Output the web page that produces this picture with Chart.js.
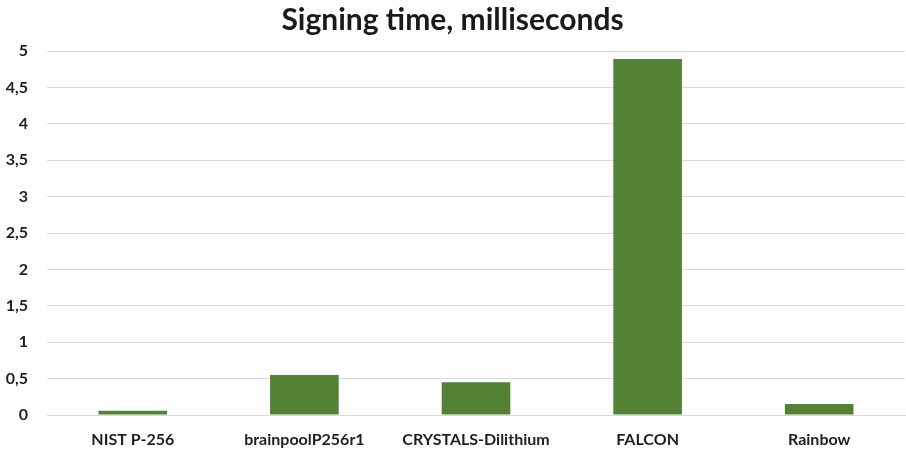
<!DOCTYPE html>
<html>
<head>
<meta charset="utf-8">
<script src="https://cdn.jsdelivr.net/npm/chart.js@4/dist/chart.umd.min.js"></script>
<style>
  html, body { margin: 0; padding: 0; background: #ffffff; }
  #wrap { width: 906px; height: 452px; }
</style>
</head>
<body>
<div id="wrap"><canvas id="c" width="906" height="452"></canvas></div>
<script>
// Signing time per algorithm, in milliseconds
const categories = ["NIST P-256", "brainpoolP256r1", "CRYSTALS-Dilithium", "FALCON", "Rainbow"];
const signingTimeMs = [0.06, 0.55, 0.45, 4.89, 0.15];
const yTicks = [0, 0.5, 1, 1.5, 2, 2.5, 3, 3.5, 4, 4.5, 5];

const fontFamily = "Lato, 'Open Sans', 'DejaVu Sans', sans-serif";

new Chart(document.getElementById("c"), {
  type: "bar",
  data: {
    labels: categories,
    datasets: [{
      label: "Signing time, milliseconds",
      data: signingTimeMs,
      backgroundColor: "#548235",
      borderWidth: 0,
      categoryPercentage: 0.8,
      barPercentage: 0.5
    }]
  },
  options: {
    responsive: false,
    animation: false,
    layout: { padding: { left: 0, right: 1, top: 0, bottom: 3 } },
    plugins: {
      legend: { display: false },
      tooltip: { enabled: false },
      title: {
        display: true,
        text: "Signing time, milliseconds",
        color: "#1a1a1a",
        font: { family: fontFamily, size: 30, weight: "bold" },
        padding: { top: 2, bottom: 13 }
      }
    },
    scales: {
      x: {
        afterFit: (axis) => { axis.height = 34; },
        grid: { display: false, drawTicks: false },
        border: { display: true, color: "#d9d9d9", width: 1 },
        ticks: {
          color: "#1f1f1f",
          font: { family: fontFamily, size: 16, weight: "bold" },
          padding: 15,
          maxRotation: 0
        }
      },
      y: {
        min: 0,
        max: 5,
        afterBuildTicks: (axis) => { axis.ticks = yTicks.map(v => ({ value: v })); },
        afterFit: (axis) => { axis.width = 47; },
        grid: { color: "#d9d9d9", lineWidth: 1, drawTicks: false },
        border: { display: false },
        ticks: {
          color: "#1f1f1f",
          font: { family: fontFamily, size: 16, weight: "bold" },
          padding: 19,
          callback: (v) => String(v).replace(".", ",")
        }
      }
    }
  }
});
</script>
</body>
</html>
